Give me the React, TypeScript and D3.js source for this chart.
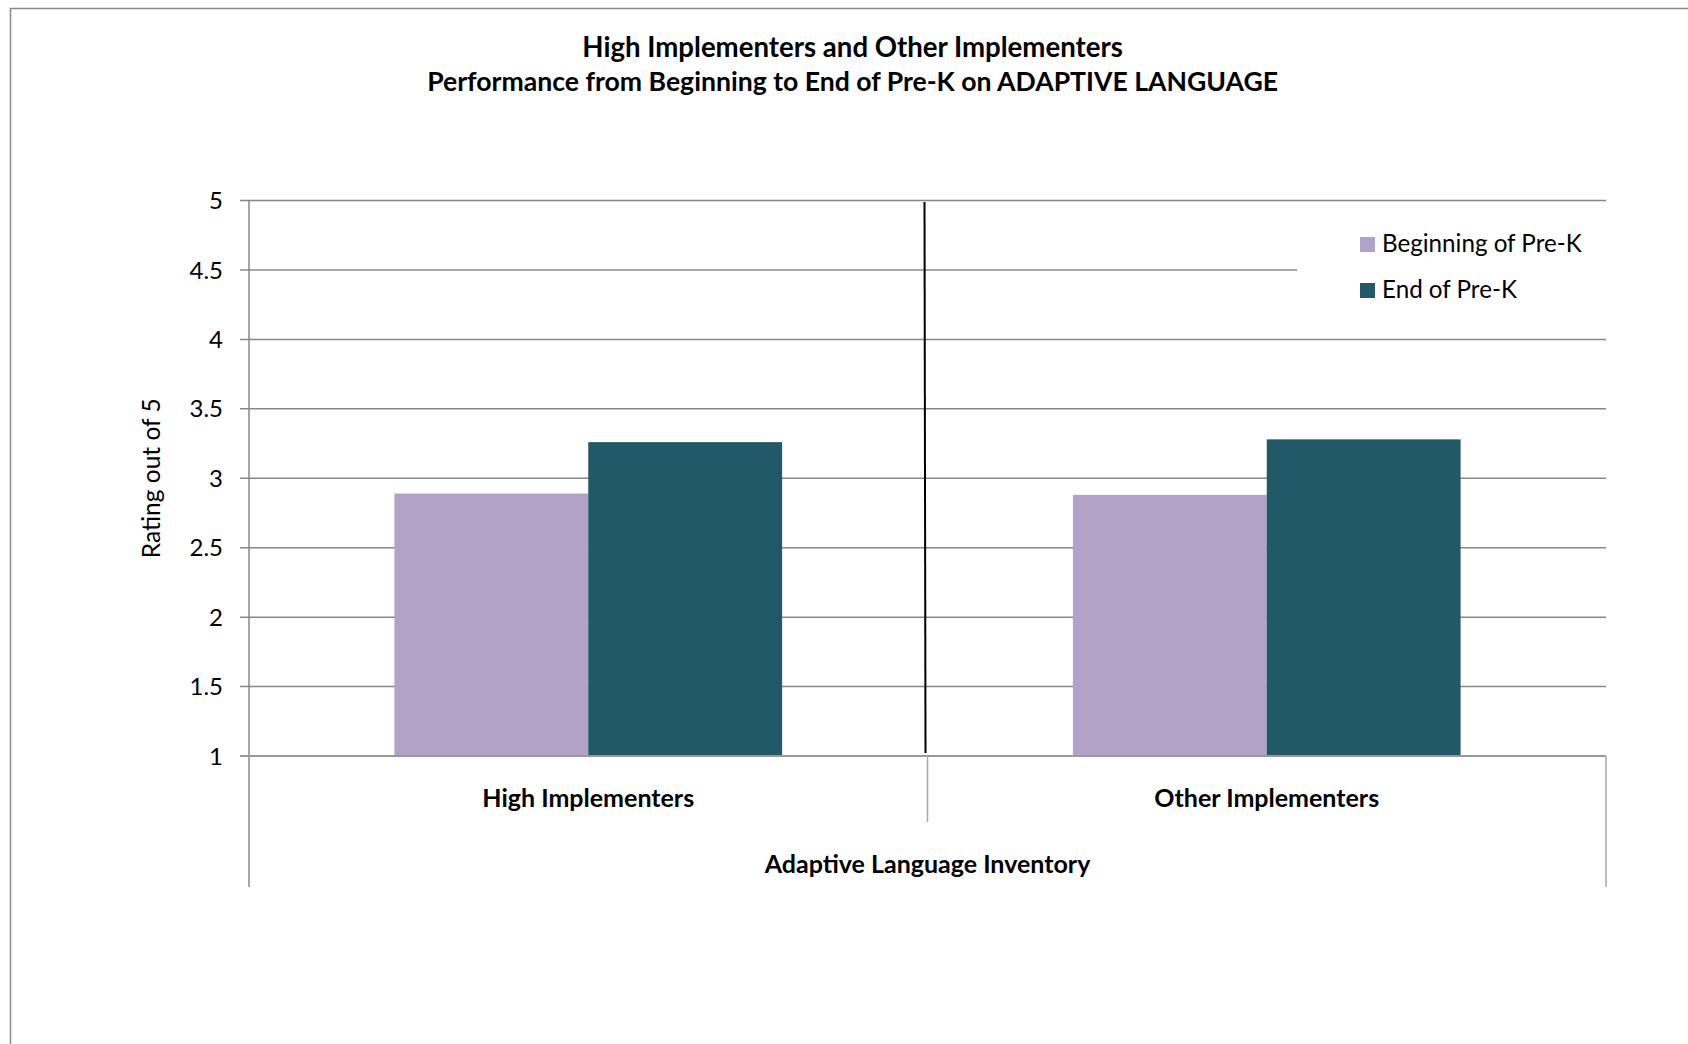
import React from "react";
import * as d3 from "d3";

const categories = ["High Implementers", "Other Implementers"];
const seriesNames = ["Beginning of Pre-K", "End of Pre-K"];
const beginningValues = [2.89, 2.88];
const endValues = [3.26, 3.28];
const yTickValues = [1, 1.5, 2, 2.5, 3, 3.5, 4, 4.5, 5];
const yTickLabels = ["1", "1.5", "2", "2.5", "3", "3.5", "4", "4.5", "5"];
const seriesColors = ["#B2A2C7", "#225968"];
const axisGroupTitle = "Adaptive Language Inventory";
const titleLines = [
  "High Implementers and Other Implementers",
  "Performance from Beginning to End of Pre-K on ADAPTIVE LANGUAGE",
];
const yAxisTitle = "Rating out of 5";

const FONT = "Lato, 'Open Sans', sans-serif";

export default function App() {
  const W = 1688;
  const H = 1044;
  const left = 249;
  const right = 1606;
  const top = 200.5;
  const bottom = 756;
  const catBottom = 887;
  const midBottom = 822;

  const y = d3.scaleLinear().domain([1, 5]).range([bottom, top]);
  const x0 = d3.scaleBand<string>().domain(categories).range([left, right]).paddingInner(0).paddingOuter(0);
  const x1 = d3
    .scaleBand<string>()
    .domain(seriesNames)
    .range([0, x0.bandwidth()])
    .paddingInner(0)
    .paddingOuter(0.75);

  const seriesValues = [beginningValues, endValues];
  const color = d3.scaleOrdinal<string, string>().domain(seriesNames).range(seriesColors);

  const gridColor = "#878787";
  const catAxisColor = "#a6a6a6";

  const boundary = x0(categories[1]) as number;
  const legendX = 1360;
  const legendY = 237;
  const titleSizes = [27.6, 26.6];
  const titleBaselines = [56.5, 91];

  return (
    <div>
      <style>{`body{margin:0}`}</style>
      <svg width={W} height={H} style={{ display: "block", background: "#fff" }} fontFamily={FONT}>
        <rect x={0} y={0} width={W} height={H} fill="#fff" />
        <rect x={10.5} y={8.5} width={W + 20} height={H + 20} fill="none" stroke="#8a8a8a" strokeWidth={1.5} />

        {/* title */}
        {titleLines.map((t, i) => (
          <text
            key={t}
            x={852.6}
            y={titleBaselines[i]}
            textAnchor="middle"
            fontSize={titleSizes[i]}
            fontWeight="bold"
            fill="#000"
          >
            {t}
          </text>
        ))}

        {/* gridlines + tick marks */}
        {yTickValues.map((v) => (
          <line key={"g" + v} x1={left - 9} x2={right} y1={y(v)} y2={y(v)} stroke={gridColor} strokeWidth={1.5} />
        ))}

        {/* bars */}
        {categories.map((c, ci) => (
          <g key={c} transform={`translate(${x0(c)},0)`}>
            {seriesNames.map((s, si) => {
              const v = seriesValues[si][ci];
              return (
                <rect
                  key={s}
                  x={x1(s)}
                  y={y(v)}
                  width={x1.bandwidth()}
                  height={y(1) - y(v)}
                  fill={color(s)}
                />
              );
            })}
          </g>
        ))}

        {/* axes */}
        <line x1={left} x2={left} y1={top} y2={catBottom} stroke={gridColor} strokeWidth={1.5} />
        <line x1={left - 9} x2={right} y1={bottom} y2={bottom} stroke="#999" strokeWidth={2} />
        <line x1={boundary} x2={boundary} y1={bottom} y2={midBottom} stroke={catAxisColor} strokeWidth={1.5} />
        <line x1={right} x2={right} y1={bottom} y2={catBottom} stroke={catAxisColor} strokeWidth={1.5} />

        {/* drawn separator line */}
        <line x1={boundary - 3} x2={boundary - 2} y1={top + 1.5} y2={bottom - 3} stroke="#000" strokeWidth={2} />

        {/* y tick labels */}
        {yTickValues.map((v, i) => (
          <text key={"t" + v} x={223} y={y(v)} dy="0.36em" textAnchor="end" fontSize={24} fill="#000">
            {yTickLabels[i]}
          </text>
        ))}

        {/* y axis title */}
        <text
          transform={`translate(151,${(top + bottom) / 2}) rotate(-90)`}
          textAnchor="middle"
          dy="0.36em"
          fontSize={24.5}
          fill="#000"
        >
          {yAxisTitle}
        </text>

        {/* category labels */}
        {categories.map((c) => (
          <text
            key={"c" + c}
            x={(x0(c) as number) + x0.bandwidth() / 2}
            y={807}
            textAnchor="middle"
            fontSize={25}
            fontWeight="bold"
            fill="#000"
          >
            {c}
          </text>
        ))}
        <text x={(left + right) / 2} y={873} textAnchor="middle" fontSize={25} fontWeight="bold" fill="#000">
          {axisGroupTitle}
        </text>

        {/* legend */}
        <rect x={1297} y={215} width={right - 1297} height={95} fill="#fff" />
        {seriesNames.map((s, i) => (
          <g key={"l" + s} transform={`translate(${legendX},${legendY + i * 46})`}>
            <rect x={0} y={0} width={15} height={15} fill={color(s)} />
            <text x={22} y={15} fontSize={24.2} fill="#000">
              {s}
            </text>
          </g>
        ))}
      </svg>
    </div>
  );
}
